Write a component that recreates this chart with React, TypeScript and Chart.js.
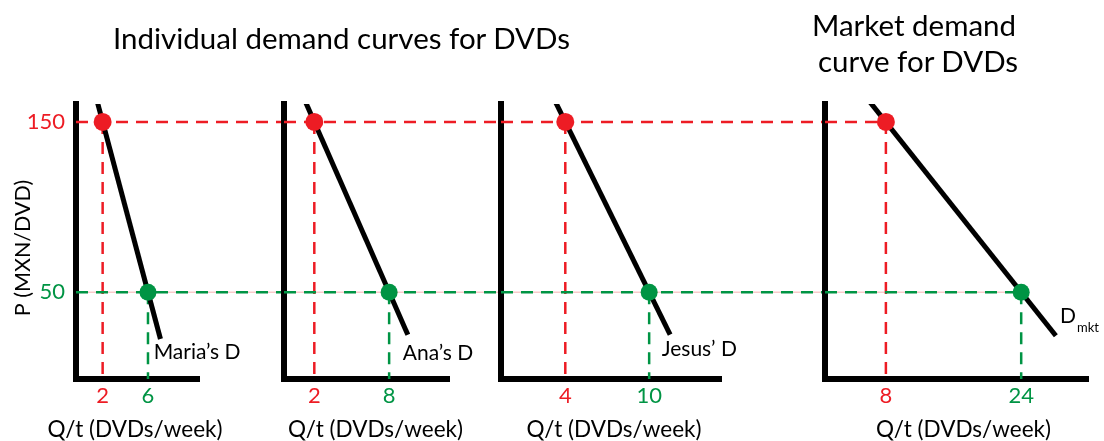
import React, { useEffect, useRef } from "react";
import { Chart, registerables } from "chart.js";
Chart.register(...registerables);

const RED = "#ED1C24";
const GREEN = "#009444";
const PINK = "#F6AFAF";
const FONT = "Lato";

// ---- data ----
const prices = [150, 50];
const mariaQ = [2, 6];
const anaQ = [2, 8];
const jesusQ = [4, 10];
const marketQ = [8, 24];

const mariaCurveQ = [1.5, 7.1];
const mariaCurveP = [162.5, 22.5];
const anaCurveQ = [1.2, 9.5];
const anaCurveP = [163.3, 25];
const jesusCurveQ = [3.1, 11.5];
const jesusCurveP = [165, 25];
const marketCurveQ = [5.9, 28.1];
const marketCurveP = [163, 24.4];

const curveNames = ["Maria\u2019s D", "Ana\u2019s D", "Jesus\u2019 D", "D"];
const marketSub = "mkt";
const yTitle = "P (MXN/DVD)";
const xTitle = "Q/t (DVDs/week)";
const mainTitle = "Individual demand curves for DVDs";
const marketTitle = ["Market demand", "curve for DVDs"];

// ---- layout per panel ----
const panels = [
  { q: mariaQ, cq: mariaCurveQ, cp: mariaCurveP, name: curveNames[0], left: 0, width: 284, yW: 76, padR: 85, xMin: -0.35, xMax: 10.5, showY: true, extend: true, lab: [6.5, 15], tdx: -2.5 },
  { q: anaQ, cq: anaCurveQ, cp: anaCurveP, name: curveNames[1], left: 274, width: 227, yW: 10, padR: 52, xMin: -0.43, xMax: 12.8, showY: false, extend: true, lab: [9.1, 14], tdx: 9 },
  { q: jesusQ, cq: jesusCurveQ, cp: jesusCurveP, name: curveNames[2], left: 491, width: 334, yW: 10, padR: 104, xMin: -0.6, xMax: 15.14, showY: false, extend: true, lab: [10.9, 16.5], tdx: 3 },
  { q: marketQ, cq: marketCurveQ, cp: marketCurveP, name: curveNames[3], sub: marketSub, left: 815, width: 289, yW: 10, padR: 16, xMin: 0.8, xMax: 31.9, showY: false, extend: false, lab: [28.6, 36], tdx: 7 },
];

const Y_MIN = -1;
const Y_MAX = 160.5;
const H = 441;

const curveLabelPlugin = {
  id: "curveLabel",
  afterDatasetsDraw(chart: any, _args: any, opts: any) {
    if (!opts || !opts.text) return;
    const { ctx } = chart;
    const x = chart.scales.x;
    const y = chart.scales.y;
    const px = x.getPixelForValue(opts.q);
    const py = y.getPixelForValue(opts.p);
    ctx.save();
    ctx.fillStyle = "#000";
    ctx.textAlign = "left";
    ctx.textBaseline = "middle";
    ctx.font = `${opts.size}px ${FONT}`;
    ctx.fillText(opts.text, px, py);
    if (opts.sub) {
      const w = ctx.measureText(opts.text).width;
      ctx.font = `${opts.subSize}px ${FONT}`;
      ctx.fillText(opts.sub, px + w + 1, py + 12);
    }
    ctx.restore();
  },
};

const axisTitlePlugin = {
  id: "axisTitles",
  afterDraw(chart: any, _args: any, opts: any) {
    if (!opts) return;
    const { ctx, chartArea } = chart;
    ctx.save();
    ctx.fillStyle = "#000";
    ctx.font = `${opts.size}px ${FONT}`;
    ctx.textAlign = "center";
    ctx.textBaseline = "alphabetic";
    ctx.fillText(opts.x, (chartArea.left + chartArea.right) / 2 + opts.dx, opts.xBase);
    if (opts.y) {
      ctx.translate(opts.yX, opts.yY);
      ctx.rotate(-Math.PI / 2);
      ctx.font = `${opts.ySize}px ${FONT}`;
      ctx.textBaseline = "middle";
      ctx.fillText(opts.y, 0, 0);
    }
    ctx.restore();
  },
};

function Panel({ p }: { p: any }) {
  const ref = useRef<HTMLCanvasElement>(null);
  useEffect(() => {
    let chart: any = null;
    let cancelled = false;
    const make = () => {
      if (cancelled || !ref.current) return;
      const far = p.xMax * 4;
      const hRedEnd = p.extend ? far : p.q[0];
      const hGreenEnd = p.extend ? far : p.q[1];
      chart = new Chart(ref.current, {
        type: "scatter",
        data: {
          datasets: [
            { data: [{ x: p.q[0], y: prices[0] }], pointRadius: 9, pointBackgroundColor: RED, pointBorderWidth: 0, order: 0 },
            { data: [{ x: p.q[1], y: prices[1] }], pointRadius: 8.5, pointBackgroundColor: GREEN, pointBorderWidth: 0, order: 0 },
            { data: [{ x: p.cq[0], y: p.cp[0] }, { x: p.cq[1], y: p.cp[1] }], showLine: true, borderColor: "#000", borderWidth: 5, pointRadius: 0, borderCapStyle: "butt", order: 1 },
            { data: [{ x: p.xMin, y: prices[0] }, { x: hRedEnd, y: prices[0] }], showLine: true, borderColor: RED, borderWidth: 2.5, borderDash: [12, 8], pointRadius: 0, clip: false, order: 2 },
            { data: [{ x: p.xMin, y: prices[1] }, { x: hGreenEnd, y: prices[1] }], showLine: true, borderColor: GREEN, borderWidth: 2.5, borderDash: [12, 8], pointRadius: 0, clip: false, order: 2 },
            { data: [{ x: p.xMin, y: prices[1] }, { x: hGreenEnd, y: prices[1] }], showLine: true, borderColor: PINK, borderWidth: 1, pointRadius: 0, clip: false, order: 4 },
            { data: [{ x: p.q[0], y: prices[0] }, { x: p.q[0], y: Y_MIN }], showLine: true, borderColor: RED, borderWidth: 2.5, borderDash: [12, 8], pointRadius: 0, order: 3 },
            { data: [{ x: p.q[1], y: prices[1] }, { x: p.q[1], y: Y_MIN }], showLine: true, borderColor: GREEN, borderWidth: 2.5, borderDash: [12, 8], pointRadius: 0, order: 3 },
          ],
        },
        options: {
          responsive: false,
          animation: false,
          events: [],
          layout: { padding: { top: 104, right: p.padR, left: 0, bottom: 0 } },
          plugins: {
            legend: { display: false },
            tooltip: { enabled: false },
            curveLabel: { text: p.name, sub: p.sub, q: p.lab[0], p: p.lab[1], size: 21, subSize: 13 },
            axisTitles: { x: xTitle, dx: p.tdx, xBase: 437, size: 22.5, y: p.showY ? yTitle : "", yX: 23, yY: 248, ySize: 21.5 },
          } as any,
          scales: {
            x: {
              type: "linear",
              position: "bottom",
              min: p.xMin,
              max: p.xMax,
              grid: { display: false, drawTicks: false },
              border: { display: true, width: 6, color: "#000" },
              afterBuildTicks: (s: any) => {
                s.ticks = p.q.map((v: number) => ({ value: v }));
              },
              afterFit: (s: any) => {
                s.height = 62;
              },
              ticks: {
                autoSkip: false,
                maxRotation: 0,
                padding: 4,
                color: (c: any) => (c.index === 0 ? RED : GREEN),
                font: { size: 22, family: FONT },
                callback: (v: any) => String(v),
              },
              title: { display: false },
            },
            y: {
              type: "linear",
              position: "left",
              min: Y_MIN,
              max: Y_MAX,
              grid: { display: false, drawTicks: false },
              border: { display: true, width: 6, color: "#000" },
              afterBuildTicks: (s: any) => {
                s.ticks = prices.map((v) => ({ value: v }));
              },
              afterFit: (s: any) => {
                s.width = p.yW;
              },
              ticks: {
                display: p.showY,
                padding: 11,
                color: (c: any) => (c.tick && c.tick.value === prices[0] ? RED : GREEN),
                font: { size: 22, family: FONT },
                callback: (v: any) => String(v),
              },
              title: { display: false },
            },
          },
        } as any,
        plugins: [curveLabelPlugin as any, axisTitlePlugin as any],
      });
    };
    const fonts: any = (document as any).fonts;
    if (fonts && fonts.load) {
      Promise.all([fonts.load(`22px ${FONT}`), fonts.load(`13px ${FONT}`)]).then(make, make);
    } else {
      make();
    }
    return () => {
      cancelled = true;
      if (chart) chart.destroy();
    };
  }, []);
  return (
    <canvas
      ref={ref}
      width={p.width}
      height={H}
      style={{ position: "absolute", left: p.left, top: 0, width: p.width, height: H }}
    />
  );
}

const titleStyle: any = { position: "absolute", textAlign: "center", fontSize: 29.5, lineHeight: "36px", color: "#000", whiteSpace: "nowrap" };

export default function App() {
  return (
    <div style={{ position: "absolute", left: 0, top: 0, width: 1104, height: H, background: "#fff", overflow: "hidden", fontFamily: FONT }}>
      {panels.map((p, i) => (
        <Panel key={i} p={p} />
      ))}
      <div style={{ ...titleStyle, left: 41.5, top: 19.6, width: 600 }}>{mainTitle}</div>
      <div style={{ ...titleStyle, left: 714, top: 6.6, width: 400 }}>{marketTitle[0]}</div>
      <div style={{ ...titleStyle, left: 718, top: 43.3, width: 400 }}>{marketTitle[1]}</div>
    </div>
  );
}
